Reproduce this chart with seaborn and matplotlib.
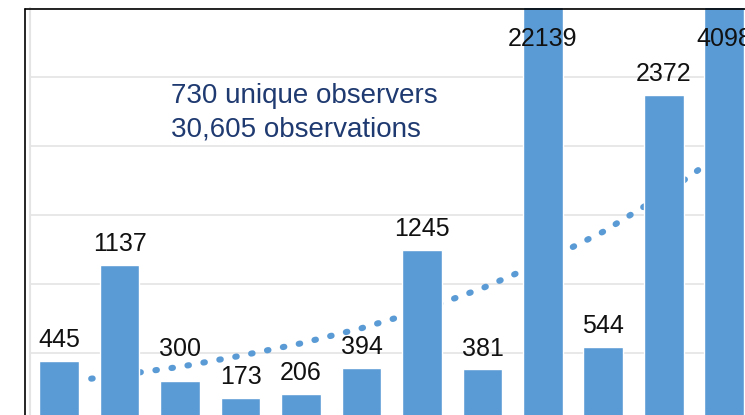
import matplotlib
matplotlib.use('Agg')
import matplotlib.pyplot as plt
from matplotlib.lines import Line2D
import seaborn as sns
import pandas as pd
import numpy as np

# bar values, left to right (last two run past the top of the axis)
positions = list(range(12))
counts = [445, 1137, 300, 173, 206, 394, 1245, 381, 22139, 544, 2372, 4098]
# dotted trend line at each bar centre
trend = [285, 340, 400, 480, 570, 680, 810, 970, 1160, 1380, 1650, 1960]
note_lines = ['730 unique observers', '30,605 observations']

df = pd.DataFrame({'pos': positions, 'count': counts})

sns.set_style('white')
plt.rcParams['font.family'] = ['Liberation Sans', 'DejaVu Sans']

W, H = 745, 415
fig = plt.figure(figsize=(W / 100, H / 100), dpi=100)
ax = fig.add_axes([30 / W, 0, 1 - 30 / W, 1 - 8 / H])

bar_color = '#5B9BD5'
sns.barplot(data=df, x='pos', y='count', color=bar_color, saturation=1,
            width=0.66, ax=ax, zorder=2)

ax.plot(positions, trend, color=bar_color, lw=4.4, zorder=1,
        linestyle=(0, (0.25, 2.4)), dash_capstyle='round')

ymin, ymax = 51, 3000
ax.set_xlim(-0.48, 11.34)
ax.set_ylim(ymin, ymax)
ax.set_yticks(np.arange(500, 3001, 500))
ax.yaxis.grid(True, color='#E4E4E4', lw=1.2)
ax.set_axisbelow(True)
ax.tick_params(left=False, bottom=False, labelleft=False, labelbottom=False)
ax.set_xlabel('')
ax.set_ylabel('')
for s in ['top', 'right', 'bottom']:
    ax.spines[s].set_visible(False)
ax.spines['left'].set_color('#E4E4E4')
ax.spines['left'].set_linewidth(1.5)

# value labels above bars; clipped bars get their label near the top
for i, v in enumerate(counts):
    if v > ymax:
        ax.annotate(f'{v}', (i, ymax), xytext=(0, -27.5), textcoords='offset points',
                    ha='center', va='baseline', fontsize=18, color='#111111')
    else:
        off = 18 if i == 2 else 10
        ax.annotate(f'{v}', (i, v), xytext=(0, off), textcoords='offset points',
                    ha='center', va='baseline', fontsize=18, color='#111111')

# note text
for k, line in enumerate(note_lines):
    ax.text(1.85, 2312 - k * 240, line, ha='left', va='baseline',
            fontsize=20, color='#1F3A70')

# black frame of the screenshot
fig.add_artist(Line2D([25 / W, 1], [1 - 9 / H, 1 - 9 / H], color='black', lw=1.2,
                      transform=fig.transFigure))
fig.add_artist(Line2D([25 / W, 25 / W], [0, 1 - 9 / H], color='black', lw=1.2,
                      transform=fig.transFigure))

fig.savefig('out.png', dpi=100)
